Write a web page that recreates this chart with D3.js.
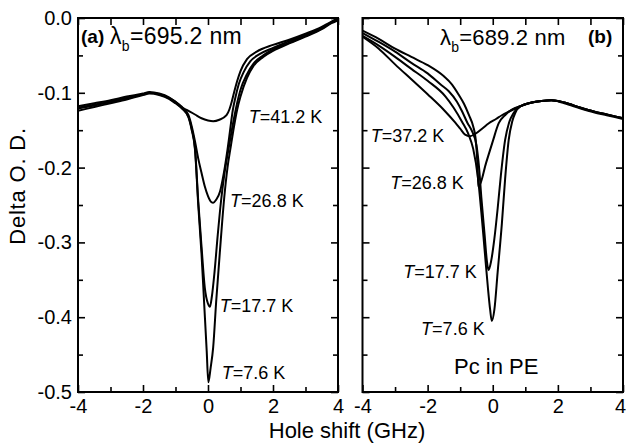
<!DOCTYPE html>
<html>
<head>
<meta charset="utf-8">
<script src="https://cdn.jsdelivr.net/npm/d3@7"></script>
<style>
  body { margin: 0; background: #fff; }
  svg { font-family: "Liberation Sans", Arial, sans-serif; }
</style>
</head>
<body>
<div class="canvas"></div>
<script>
// hole shift (GHz) vs delta O.D.
// panel (a), lambda_b = 695.2 nm
const aT76 = [[-4,-0.124],[-3.5,-0.119],[-3,-0.114],[-2.5,-0.109],[-2,-0.103],[-1.8,-0.101],[-1.5,-0.103],[-1.2,-0.108],[-1.0,-0.114],[-0.8,-0.121],[-0.6,-0.133],[-0.5,-0.150],[-0.4,-0.176],[-0.3,-0.25],[-0.2,-0.315],[-0.12,-0.38],[-0.04,-0.445],[0.01,-0.487],[0.08,-0.468],[0.16,-0.44],[0.25,-0.38],[0.37,-0.31],[0.5,-0.24],[0.6,-0.20],[0.7,-0.172],[0.8,-0.145],[0.9,-0.122],[1.0,-0.105],[1.2,-0.080],[1.4,-0.064],[1.7,-0.052],[2.0,-0.044],[2.5,-0.034],[3.0,-0.025],[3.5,-0.015],[3.8,-0.007],[4,-0.003]]
const aT177 = [[-4,-0.120],[-3.5,-0.116],[-3,-0.112],[-2.5,-0.107],[-2,-0.102],[-1.8,-0.100],[-1.5,-0.102],[-1.2,-0.107],[-1.0,-0.113],[-0.8,-0.120],[-0.6,-0.132],[-0.5,-0.148],[-0.4,-0.174],[-0.3,-0.245],[-0.2,-0.305],[-0.1,-0.36],[0.0,-0.382],[0.06,-0.386],[0.12,-0.372],[0.2,-0.34],[0.3,-0.29],[0.4,-0.245],[0.5,-0.21],[0.6,-0.183],[0.7,-0.158],[0.8,-0.134],[0.9,-0.113],[1.0,-0.096],[1.2,-0.075],[1.4,-0.061],[1.7,-0.050],[2.0,-0.042],[2.5,-0.033],[3.0,-0.024],[3.5,-0.014],[3.8,-0.006],[4,-0.002]]
const aT268 = [[-4,-0.118],[-3.5,-0.114],[-3,-0.110],[-2.5,-0.105],[-2,-0.101],[-1.8,-0.099],[-1.5,-0.101],[-1.2,-0.106],[-1.0,-0.112],[-0.8,-0.119],[-0.6,-0.130],[-0.5,-0.145],[-0.4,-0.165],[-0.3,-0.188],[-0.2,-0.207],[-0.1,-0.225],[0.0,-0.238],[0.1,-0.246],[0.16,-0.247],[0.25,-0.243],[0.37,-0.232],[0.45,-0.216],[0.52,-0.199],[0.6,-0.176],[0.68,-0.150],[0.76,-0.124],[0.85,-0.105],[0.95,-0.088],[1.1,-0.072],[1.3,-0.058],[1.6,-0.048],[2.0,-0.040],[2.5,-0.031],[3.0,-0.023],[3.5,-0.013],[3.8,-0.006],[4,-0.001]]
const aT412 = [[-4,-0.121],[-3.5,-0.117],[-3,-0.112],[-2.5,-0.107],[-2,-0.102],[-1.8,-0.100],[-1.5,-0.102],[-1.2,-0.107],[-1.0,-0.112],[-0.86,-0.118],[-0.6,-0.124],[-0.4,-0.129],[-0.2,-0.134],[0.0,-0.137],[0.16,-0.138],[0.35,-0.136],[0.57,-0.130],[0.66,-0.122],[0.73,-0.112],[0.8,-0.100],[0.9,-0.084],[1.0,-0.071],[1.2,-0.055],[1.5,-0.045],[2.0,-0.036],[2.5,-0.029],[3.0,-0.021],[3.5,-0.012],[3.8,-0.005],[4,0.0]]

// panel (b), lambda_b = 689.2 nm
const bT76 = [[-4,-0.024],[-3.5,-0.037],[-3,-0.052],[-2.5,-0.068],[-2,-0.084],[-1.45,-0.105],[-1.2,-0.120],[-0.94,-0.139],[-0.75,-0.155],[-0.6,-0.175],[-0.45,-0.215],[-0.35,-0.26],[-0.25,-0.31],[-0.15,-0.36],[-0.08,-0.39],[-0.03,-0.405],[0.05,-0.39],[0.15,-0.34],[0.28,-0.275],[0.38,-0.215],[0.49,-0.163],[0.6,-0.138],[0.69,-0.127],[0.85,-0.118],[1.2,-0.113],[1.5,-0.111],[1.8,-0.110],[2.2,-0.113],[2.7,-0.120],[3.1,-0.125],[3.5,-0.129],[4,-0.134]]
const bT177 = [[-4,-0.020],[-3.5,-0.032],[-3,-0.045],[-2.5,-0.060],[-2,-0.074],[-1.6,-0.089],[-1.35,-0.098],[-1.1,-0.112],[-0.94,-0.125],[-0.78,-0.140],[-0.63,-0.152],[-0.5,-0.170],[-0.42,-0.200],[-0.35,-0.24],[-0.25,-0.29],[-0.18,-0.325],[-0.13,-0.337],[-0.05,-0.325],[0.05,-0.295],[0.15,-0.255],[0.25,-0.21],[0.38,-0.163],[0.5,-0.14],[0.64,-0.127],[0.85,-0.118],[1.2,-0.113],[1.5,-0.111],[1.8,-0.110],[2.2,-0.113],[2.7,-0.120],[3.1,-0.125],[3.5,-0.129],[4,-0.134]]
const bT268 = [[-4,-0.017],[-3.5,-0.028],[-3,-0.041],[-2.5,-0.052],[-2,-0.063],[-1.5,-0.078],[-1.25,-0.089],[-1.04,-0.103],[-0.88,-0.115],[-0.73,-0.130],[-0.6,-0.145],[-0.53,-0.160],[-0.47,-0.195],[-0.44,-0.226],[-0.2,-0.193],[0.0,-0.165],[0.18,-0.141],[0.4,-0.129],[0.6,-0.122],[0.85,-0.118],[1.2,-0.113],[1.5,-0.111],[1.8,-0.110],[2.2,-0.113],[2.7,-0.120],[3.1,-0.125],[3.5,-0.129],[4,-0.134]]
const bT372 = [[-4,-0.025],[-3.5,-0.041],[-3,-0.062],[-2.5,-0.082],[-2,-0.102],[-1.5,-0.123],[-1.15,-0.140],[-1.0,-0.148],[-0.85,-0.156],[-0.7,-0.158],[-0.54,-0.155],[-0.3,-0.147],[-0.13,-0.141],[0.1,-0.135],[0.28,-0.130],[0.5,-0.125],[0.69,-0.121],[0.9,-0.117],[1.2,-0.113],[1.5,-0.111],[1.8,-0.110],[2.2,-0.114],[2.7,-0.121],[3.1,-0.126],[3.5,-0.130],[4,-0.135]]

const xLabels = [-4, -2, 0, 2, 4]
const xMinor = [-3, -1, 1, 3]
const yLabels = [0, -0.1, -0.2, -0.3, -0.4, -0.5]
const yMinor = [-0.05, -0.15, -0.25, -0.35, -0.45]

// annotations: [text after "T=", hole shift, delta OD] anchors near the dips
const aNotes = [['41.2 K', 1.25, -0.141], ['26.8 K', 0.68, -0.253], ['17.7 K', 0.36, -0.393], ['7.6 K', 0.42, -0.482]]
const bNotes = [['37.2 K', -3.75, -0.166], ['26.8 K', -3.15, -0.228], ['17.7 K', -2.75, -0.348], ['7.6 K', -2.2, -0.424]]

const W = 626, H = 445
const svg = d3.select('.canvas')
    .append('svg')
    .attr('width', W)
    .attr('height', H)

const plotTop = 18, plotBottom = 392

const y = d3.scaleLinear()
    .domain([-0.5, 0])
    .range([plotBottom, plotTop])

function drawPanel(x0, x1, curves, notes, showYLabels) {
    const x = d3.scaleLinear()
        .domain([-4, 4])
        .range([x0, x1])

    const g = svg.append('g')

    // inward ticks on all four sides
    const tickLen = 7, minorLen = 5
    const bot = g.append('g').attr('transform', `translate(0, ${plotBottom})`)
        .call(d3.axisBottom(x).tickValues(xLabels).tickSize(-tickLen).tickPadding(7).tickFormat(d => String(d)))
    bot.append('g').call(d3.axisBottom(x).tickValues(xMinor).tickSize(-minorLen).tickFormat(''))
    g.append('g').attr('transform', `translate(0, ${plotTop})`)
        .call(d3.axisTop(x).tickValues(xLabels.concat(xMinor)).tickSize(-tickLen).tickFormat(''))
    const left = g.append('g').attr('transform', `translate(${x0}, 0)`)
        .call(d3.axisLeft(y).tickValues(yLabels).tickSize(-tickLen).tickPadding(6)
            .tickFormat(showYLabels ? (d => (d === 0 ? '0.0' : d.toFixed(1))) : ''))
    left.append('g').call(d3.axisLeft(y).tickValues(yMinor).tickSize(-minorLen).tickFormat(''))
    const right = g.append('g').attr('transform', `translate(${x1}, 0)`)
        .call(d3.axisRight(y).tickValues(yLabels).tickSize(-tickLen).tickFormat(''))
    right.append('g').call(d3.axisRight(y).tickValues(yMinor).tickSize(-minorLen).tickFormat(''))

    g.selectAll('.domain').remove()
    g.selectAll('.tick line').attr('stroke', '#000').attr('stroke-width', 1.6)
    g.selectAll('.tick text')
        .attr('fill', '#000')
        .attr('font-size', 20)
        .attr('font-family', '"Liberation Sans", Arial, sans-serif')

    g.append('rect')
        .attr('x', x0).attr('y', plotTop)
        .attr('width', x1 - x0).attr('height', plotBottom - plotTop)
        .attr('fill', 'none').attr('stroke', '#000').attr('stroke-width', 2)

    const line = d3.line()
        .x(d => x(d[0]))
        .y(d => y(d[1]))
        .curve(d3.curveMonotoneX)

    g.selectAll('path.curve')
        .data(curves)
        .enter()
        .append('path')
        .attr('class', 'curve')
        .attr('d', line)
        .attr('fill', 'none')
        .attr('stroke', '#000')
        .attr('stroke-width', 2)

    const t = g.selectAll('text.note')
        .data(notes)
        .enter()
        .append('text')
        .attr('class', 'note')
        .attr('x', d => x(d[1]))
        .attr('y', d => y(d[2]))
        .attr('font-size', 18)
    t.append('tspan').attr('font-style', 'italic').text('T')
    t.append('tspan').text(d => '=' + d[0])

    return { g, x, bot }
}

const pa = drawPanel(78, 338, [aT76, aT177, aT268, aT412], aNotes, true)
const pb = drawPanel(362.5, 623, [bT76, bT177, bT268, bT372], bNotes, false)

// last label sits on the page edge, nudge it in
pb.bot.selectAll('.tick text').filter(d => d === 4).attr('dx', -3)

// panel tags and burn wavelengths
pa.g.append('text').attr('x', 81).attr('y', 43)
    .attr('font-size', 19).attr('font-weight', 'bold').text('(a)')
const la = pa.g.append('text').attr('x', 110).attr('y', 44).attr('font-size', 23).attr('letter-spacing', 0.3)
la.append('tspan').text('λ')
la.append('tspan').attr('font-size', 14).attr('dy', 7).text('b')
la.append('tspan').attr('dy', -7).text('=695.2 nm')

pb.g.append('text').attr('x', 588).attr('y', 43)
    .attr('font-size', 19).attr('font-weight', 'bold').text('(b)')
const lb = pb.g.append('text').attr('x', 440).attr('y', 45).attr('font-size', 22).attr('letter-spacing', 0.2)
lb.append('tspan').text('λ')
lb.append('tspan').attr('font-size', 14).attr('dy', 7).text('b')
lb.append('tspan').attr('dy', -7).text('=689.2 nm')

pb.g.append('text').attr('x', 454).attr('y', 374)
    .attr('font-size', 22).text('Pc in PE')

// axis titles
svg.append('text')
    .attr('x', 347).attr('y', 438)
    .attr('text-anchor', 'middle')
    .attr('font-size', 22)
    .text('Hole shift (GHz)')

svg.append('text')
    .attr('transform', 'translate(25, 186) rotate(-90)')
    .attr('text-anchor', 'middle')
    .attr('font-size', 22)
    .attr('letter-spacing', 0.8)
    .text('Delta O. D.')
</script>
</body>
</html>
